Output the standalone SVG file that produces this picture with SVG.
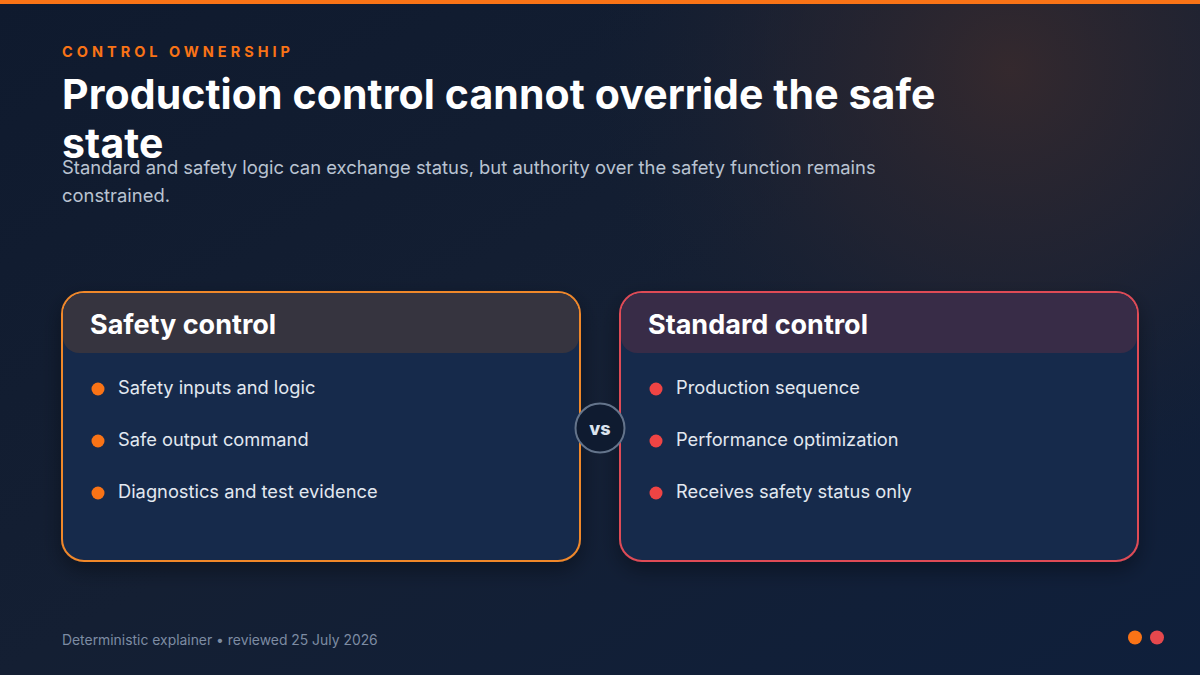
<svg xmlns="http://www.w3.org/2000/svg" width="1200" height="675" viewBox="0 0 1200 675">
  <defs>
    <linearGradient id="bg" x1="0" y1="0" x2="1" y2="1">
      <stop offset="0" stop-color="#0f1a2e"/>
      <stop offset="0.5" stop-color="#141f33"/>
      <stop offset="1" stop-color="#0f1f3b"/>
    </linearGradient>
    <radialGradient id="glow" cx="1010" cy="70" r="420" gradientUnits="userSpaceOnUse">
      <stop offset="0" stop-color="#382a2d" stop-opacity="0.9"/>
      <stop offset="0.5" stop-color="#2a2630" stop-opacity="0.55"/>
      <stop offset="1" stop-color="#1a2233" stop-opacity="0"/>
    </radialGradient>
    <filter id="shadow" x="-10%" y="-10%" width="120%" height="130%">
      <feDropShadow dx="0" dy="8" stdDeviation="10" flood-color="#000000" flood-opacity="0.35"/>
    </filter>
    <style>
      .sans { font-family: Inter, "Liberation Sans", sans-serif; }
      .eyebrow { font-size: 14.5px; font-weight: 700; letter-spacing: 4px; fill: #f97316; }
      .title { font-size: 41px; font-weight: 700; fill: #ffffff; letter-spacing: 0.1px; }
      .sub { font-size: 18.4px; fill: #b9c3d1; }
      .cardtitle { font-size: 27px; font-weight: 700; fill: #ffffff; }
      .item { font-size: 18.3px; fill: #e2e8f0; }
      .footer { font-size: 13.9px; fill: #7d8ca3; }
      .card { fill: #172a4b; stroke-width: 2; }
      .vs { font-size: 18px; font-weight: 800; fill: #dbe3ee; }
    </style>
  </defs>

  <rect x="0" y="0" width="1200" height="675" fill="url(#bg)"/>
  <rect x="0" y="0" width="1200" height="675" fill="url(#glow)"/>
  <rect x="0" y="0" width="1200" height="4" fill="#f97316"/>

  <g id="header" class="sans">
    <text x="62" y="57" class="eyebrow">CONTROL OWNERSHIP</text>
    <text x="62" y="109" class="title">Production control cannot override the safe</text>
    <text x="62" y="158" class="title">state</text>
    <text x="62" y="174" class="sub">Standard and safety logic can exchange status, but authority over the safety function remains</text>
    <text x="62" y="202" class="sub">constrained.</text>
  </g>

  <g id="safety-control" class="sans">
    <rect x="62" y="292" width="518" height="269" rx="22" class="card" stroke="#f0882c" filter="url(#shadow)"/>
    <path d="M84 293 H558 A21 21 0 0 1 579 314 V337 A16 16 0 0 1 563 353 H79 A16 16 0 0 1 63 337 V314 A21 21 0 0 1 84 293 Z" fill="#36343f"/>
    <text x="90" y="334" class="cardtitle">Safety control</text>
    <circle cx="98" cy="389" r="6.5" fill="#f97316"/>
    <text x="118" y="394" class="item">Safety inputs and logic</text>
    <circle cx="98" cy="441" r="6.5" fill="#f97316"/>
    <text x="118" y="446" class="item">Safe output command</text>
    <circle cx="98" cy="493" r="6.5" fill="#f97316"/>
    <text x="118" y="498" class="item">Diagnostics and test evidence</text>
  </g>

  <g id="standard-control" class="sans">
    <rect x="620" y="292" width="518" height="269" rx="22" class="card" stroke="#df4b57" filter="url(#shadow)"/>
    <path d="M642 293 H1116 A21 21 0 0 1 1137 314 V337 A16 16 0 0 1 1121 353 H637 A16 16 0 0 1 621 337 V314 A21 21 0 0 1 642 293 Z" fill="#382c47"/>
    <text x="648" y="334" class="cardtitle">Standard control</text>
    <circle cx="656" cy="389" r="6.5" fill="#ef4444"/>
    <text x="676" y="394" class="item">Production sequence</text>
    <circle cx="656" cy="441" r="6.5" fill="#ef4444"/>
    <text x="676" y="446" class="item">Performance optimization</text>
    <circle cx="656" cy="493" r="6.5" fill="#ef4444"/>
    <text x="676" y="498" class="item">Receives safety status only</text>
  </g>

  <g id="vs-badge" class="sans">
    <circle cx="600" cy="428" r="24.5" fill="#0f1b30" stroke="#64748b" stroke-width="2"/>
    <text x="600" y="434.5" text-anchor="middle" class="vs">vs</text>
  </g>

  <g id="connectors"></g>

  <g id="footer" class="sans">
    <text x="62" y="645" class="footer">Deterministic explainer • reviewed 25 July 2026</text>
    <circle cx="1135" cy="637.5" r="7" fill="#f97316"/>
    <circle cx="1157" cy="637.5" r="7" fill="#e5484d"/>
  </g>
</svg>
